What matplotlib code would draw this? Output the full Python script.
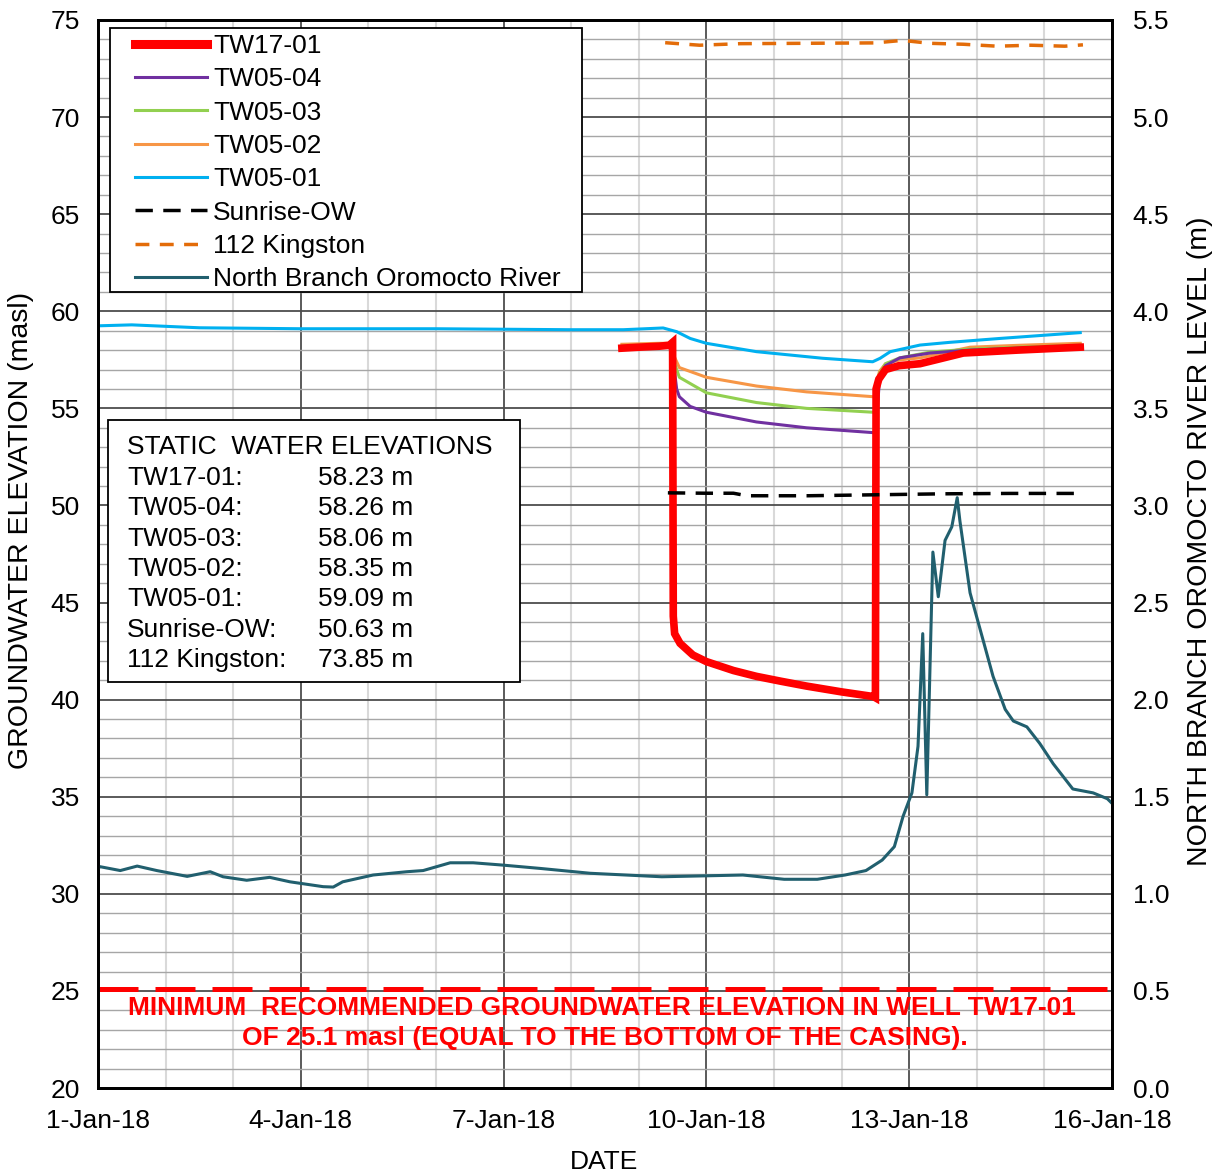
#bibliotecas
import pandas as pd
import matplotlib
matplotlib.use('Agg')
import matplotlib.pyplot as plt
import matplotlib.dates as mdates
from matplotlib.lines import Line2D
from matplotlib.patches import Rectangle

plt.rcParams['font.family'] = ['Liberation Sans', 'DejaVu Sans']

#dados (tempo em dias depois de 1-Jan-18 00:00)
inicio = pd.Timestamp('2018-01-01')

tw1701_t = [7.75, 8.0, 8.3, 8.45, 8.50, 8.51, 8.53, 8.61, 8.8, 9.0, 9.4, 9.74, 10.1, 10.48,
            11.0, 11.47, 11.5, 11.51, 11.55, 11.65, 11.85, 12.16, 12.8, 13.6, 14.53]
tw1701_v = [58.1, 58.15, 58.2, 58.25, 58.4, 44.3, 43.4, 42.9, 42.3, 41.96, 41.5, 41.2, 40.95, 40.7,
            40.4, 40.16, 40.1, 56.0, 56.5, 57.0, 57.2, 57.3, 57.85, 58.0, 58.15]

tw0504_t = [7.75, 8.3, 8.45, 8.5, 8.56, 8.6, 8.76, 9.0, 9.74, 10.48, 11.47, 11.5, 11.53, 11.56,
            11.65, 11.86, 12.31, 12.9, 13.64, 14.53]
tw0504_v = [58.1, 58.2, 58.2, 57.7, 56.0, 55.6, 55.1, 54.8, 54.3, 54.0, 53.75, 53.75, 55.0, 56.5,
            57.2, 57.6, 57.85, 58.0, 58.1, 58.2]

tw0503_t = [7.75, 8.3, 8.45, 8.5, 8.6, 9.0, 9.74, 10.48, 11.47, 11.5, 11.52, 11.56, 11.65, 11.86,
            12.31, 12.9, 13.64, 14.53]
tw0503_v = [58.2, 58.3, 58.3, 57.6, 56.6, 55.8, 55.3, 55.0, 54.8, 54.8, 55.8, 56.8, 57.3, 57.6,
            57.9, 58.05, 58.15, 58.25]

tw0502_t = [7.75, 8.3, 8.45, 8.5, 8.52, 8.6, 9.0, 9.74, 10.48, 11.47, 11.5, 11.52, 11.56, 11.65,
            11.86, 12.16, 12.9, 13.64, 14.53]
tw0502_v = [58.3, 58.35, 58.35, 58.0, 57.7, 57.1, 56.6, 56.15, 55.85, 55.6, 55.6, 56.3, 56.9, 57.3,
            57.5, 57.6, 58.15, 58.25, 58.35]

tw0501_t = [0.0, 0.5, 1.5, 3.0, 5.0, 7.0, 7.77, 8.36, 8.56, 8.76, 9.0, 9.74, 10.72, 11.46,
            11.57, 11.72, 12.16, 12.6, 13.34, 14.53]
tw0501_v = [59.25, 59.3, 59.15, 59.1, 59.1, 59.05, 59.05, 59.14, 58.95, 58.6, 58.35, 57.92, 57.58, 57.4,
            57.58, 57.92, 58.26, 58.4, 58.6, 58.9]

sunrise_t = [8.43, 9.0, 9.4, 9.6, 10.5, 11.5, 12.5, 13.5, 14.53]
sunrise_v = [50.65, 50.63, 50.63, 50.5, 50.5, 50.55, 50.6, 50.62, 50.62]

kingston_t = [8.39, 8.9, 9.5, 10.5, 11.5, 11.9, 12.3, 12.8, 13.3, 13.8, 14.3, 14.57]
kingston_v = [73.83, 73.7, 73.78, 73.8, 73.82, 73.95, 73.8, 73.75, 73.65, 73.7, 73.65, 73.72]

rio_t = [0.0, 0.03, 0.33, 0.58, 0.87, 1.32, 1.66, 1.85, 2.20, 2.54, 2.84, 3.33, 3.48, 3.62, 4.07,
         4.57, 4.81, 5.21, 5.55, 5.99, 6.54, 7.28, 8.34, 9.54, 10.15, 10.64, 11.05, 11.36, 11.60,
         11.78, 11.91, 12.04, 12.13, 12.20, 12.26, 12.35, 12.43, 12.53, 12.63, 12.71, 12.75, 12.90,
         13.09, 13.24, 13.42, 13.54, 13.74, 13.93, 14.13, 14.42, 14.72, 14.93, 15.0]
rio_v = [1.13, 1.14, 1.12, 1.143, 1.12, 1.09, 1.114, 1.088, 1.07, 1.085, 1.062, 1.037, 1.035, 1.062, 1.097,
         1.114, 1.12, 1.16, 1.16, 1.148, 1.131, 1.106, 1.088, 1.097, 1.075, 1.075, 1.097, 1.12, 1.174,
         1.243, 1.40, 1.52, 1.76, 2.34, 1.51, 2.76, 2.53, 2.82, 2.89, 3.04, 2.92, 2.55,
         2.31, 2.12, 1.95, 1.89, 1.86, 1.775, 1.67, 1.54, 1.52, 1.49, 1.466]

minimo = 25.1

#niveis estaticos
poços = ['TW17-01:', 'TW05-04:', 'TW05-03:', 'TW05-02:', 'TW05-01:', 'Sunrise-OW:', '112 Kingston:']
estaticos = [58.23, 58.26, 58.06, 58.35, 59.09, 50.63, 73.85]

fs = 19

def datas(dias):
    return inicio + pd.to_timedelta(dias, unit='D')

fig = plt.figure(figsize=(12.2, 11.75), dpi=100)
ax = fig.add_axes([0.0803, 0.074, 0.8312, 0.909])
ax2 = ax.twinx()

#grade
ax.set_axisbelow(True)
ax.xaxis.set_major_locator(mdates.DayLocator(bymonthday=[1, 4, 7, 10, 13, 16]))
ax.xaxis.set_minor_locator(mdates.DayLocator())
ax.xaxis.set_major_formatter(mdates.DateFormatter('%-d-%b-%y'))
ax.set_yticks(range(20, 80, 5))
ax.set_yticks(range(20, 76, 1), minor=True)
ax.grid(axis='x', which='minor', color='#d9d9d9', lw=1.5)
ax.grid(axis='y', which='minor', color='#a6a6a6', lw=1.0)
ax.grid(which='major', color='#4d4d4d', lw=1.3)

#séries
ax.plot(datas(tw0501_t), tw0501_v, color='#00b0f0', lw=2.2)
ax.plot(datas(tw0502_t), tw0502_v, color='#f79646', lw=2.2)
ax.plot(datas(tw0503_t), tw0503_v, color='#92d050', lw=2.2)
ax.plot(datas(tw0504_t), tw0504_v, color='#7030a0', lw=2.2)
ax.plot(datas(tw1701_t), tw1701_v, color='#ff0000', lw=5.5, solid_joinstyle='miter')
ax.plot(datas(sunrise_t), sunrise_v, color='black', lw=2.5, dashes=(5, 3))
ax.plot(datas(kingston_t), kingston_v, color='#e36c09', lw=2.5, dashes=(4, 3))
ax2.plot(datas(rio_t), rio_v, color='#215f6e', lw=2.2)

#linha do mínimo
ax.axhline(minimo, color='#ff0000', lw=3.6, dashes=(8, 3.4))
ax.text(0.497, 0.0749, 'MINIMUM  RECOMMENDED GROUNDWATER ELEVATION IN WELL TW17-01',
        transform=ax.transAxes, ha='center', va='center', color='#ff0000', fontsize=19,
        fontweight='bold')
ax.text(0.5, 0.0468, 'OF 25.1 masl (EQUAL TO THE BOTTOM OF THE CASING).',
        transform=ax.transAxes, ha='center', va='center', color='#ff0000', fontsize=19,
        fontweight='bold')

#eixos
ax.set_xlim(inicio, datas(15))
ax.set_ylim(20, 75)
ax2.set_ylim(0, 5.5)
ax2.set_yticks([i * 0.5 for i in range(12)])
ax2.yaxis.set_major_formatter(plt.FormatStrFormatter('%.1f'))
ax.tick_params(axis='y', which='major', labelsize=fs, length=0, pad=13)
ax.tick_params(axis='x', which='major', labelsize=fs, length=0, pad=15)
ax.tick_params(which='minor', length=0)
ax2.tick_params(axis='y', labelsize=fs, length=0, pad=15)
for s in ax.spines.values():
    s.set_linewidth(2)
    s.set_color('black')
for s in ax2.spines.values():
    s.set_linewidth(2)

ax.set_xlabel('DATE', fontsize=fs)
ax.xaxis.set_label_coords(0.499, -0.058)
ax.set_ylabel('GROUNDWATER ELEVATION (masl)', fontsize=20.5)
ax.yaxis.set_label_coords(-0.063, 0.5225)
ax2.set_ylabel('NORTH BRANCH OROMOCTO RIVER LEVEL (m)', fontsize=20.5)
ax2.yaxis.set_label_coords(1.074, 0.512)

#legenda (moldura desenhada a parte)
itens = [Line2D([], [], color='#ff0000', lw=6.5),
         Line2D([], [], color='#7030a0', lw=2.2),
         Line2D([], [], color='#92d050', lw=2.2),
         Line2D([], [], color='#f79646', lw=2.2),
         Line2D([], [], color='#00b0f0', lw=2.2),
         Line2D([], [], color='black', lw=2.5, dashes=(5, 3)),
         Line2D([], [], color='#e36c09', lw=2.5, dashes=(4, 3)),
         Line2D([], [], color='#215f6e', lw=2.2)]
nomes = ['TW17-01', 'TW05-04', 'TW05-03', 'TW05-02', 'TW05-01', 'Sunrise-OW', '112 Kingston',
         'North Branch Oromocto River']
ax2.add_patch(Rectangle((0.0118, 0.7453), 0.4655, 0.2472, transform=ax.transAxes,
                        facecolor='white', edgecolor='black', lw=1.3, zorder=5))
leg = ax2.legend(itens, nomes, loc='upper left', bbox_to_anchor=(0.0365, 0.9870), fontsize=fs,
                 frameon=False, handlelength=2.73, handletextpad=0.23, labelspacing=0.355,
                 borderpad=0, borderaxespad=0)
leg.set_zorder(6)

#caixa dos níveis estáticos
ax2.add_patch(Rectangle((0.0099, 0.380), 0.406, 0.2455, transform=ax.transAxes,
                        facecolor='white', edgecolor='black', lw=1.3, zorder=5))
ax2.text(0.0286, 0.600, 'STATIC  WATER ELEVATIONS', transform=ax.transAxes, fontsize=fs,
         va='center', zorder=6)
for i in range(len(poços)):
    yy = 0.571 - i * 0.02835
    ax2.text(0.0286, yy, poços[i], transform=ax.transAxes, fontsize=fs, va='center', zorder=6)
    ax2.text(0.2170, yy, '%.2f m' % estaticos[i], transform=ax.transAxes, fontsize=fs,
             va='center', zorder=6)

plt.savefig('out.png', dpi=100)
